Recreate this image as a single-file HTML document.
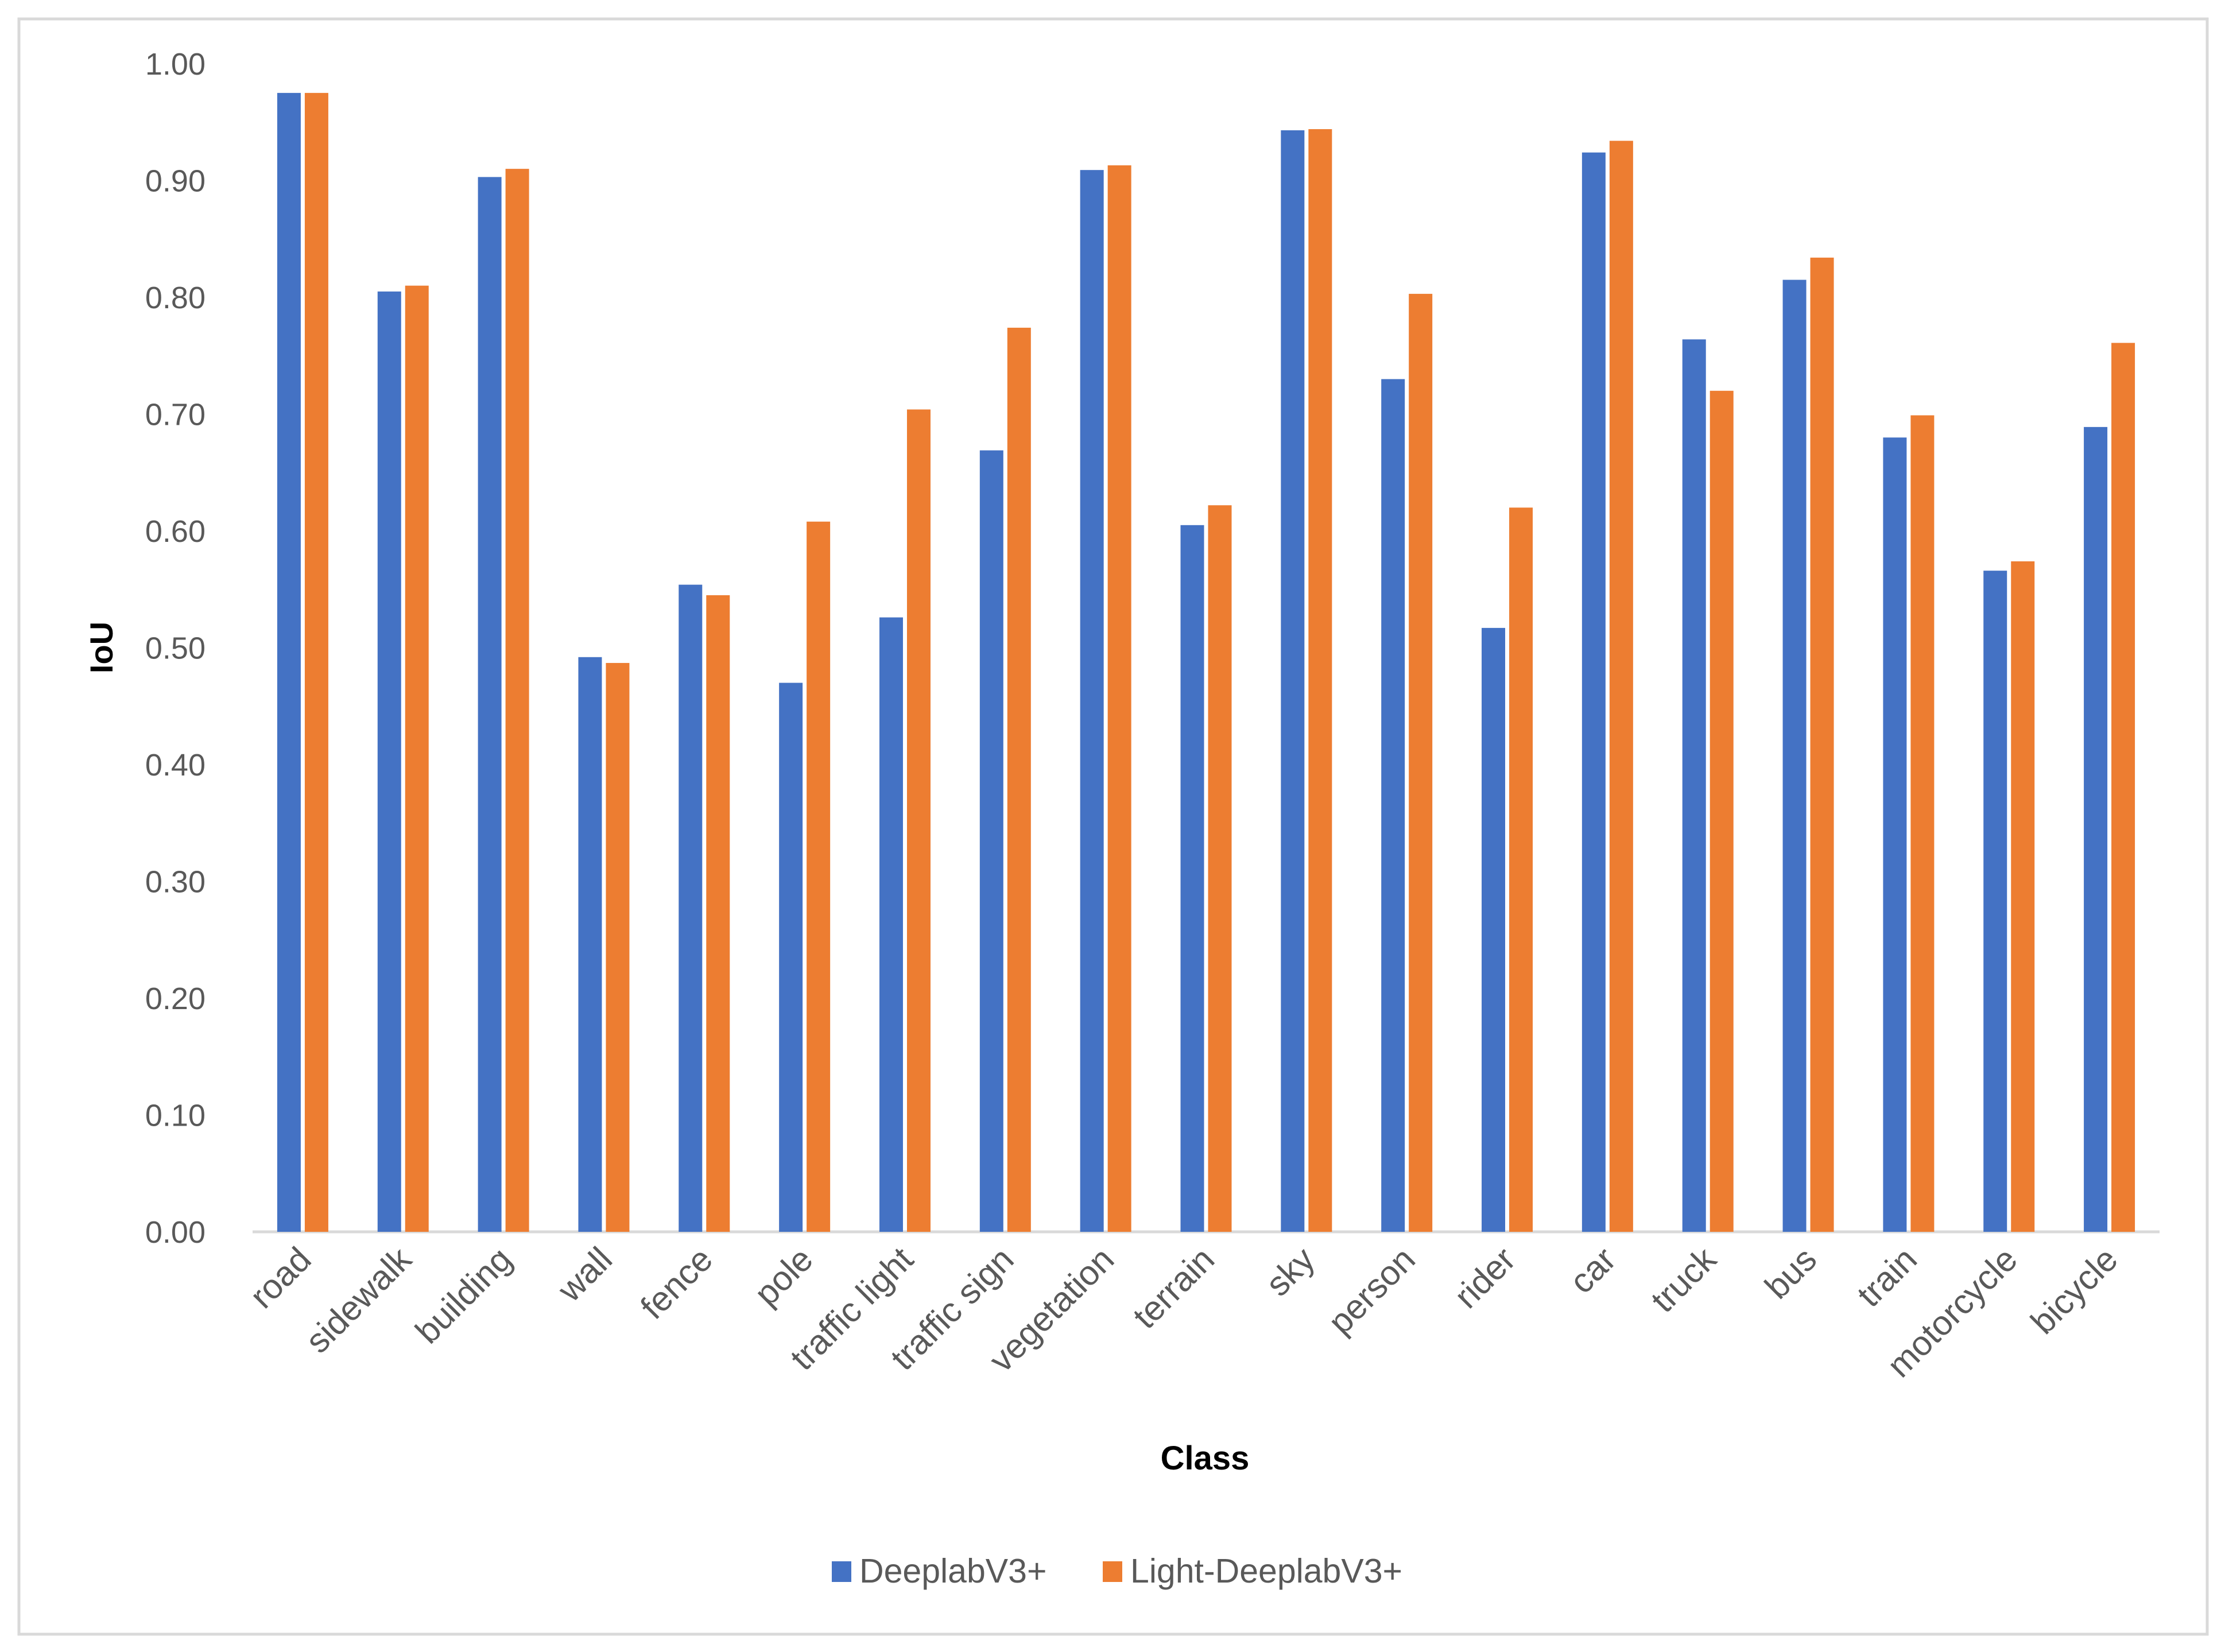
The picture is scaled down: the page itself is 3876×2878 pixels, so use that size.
<!DOCTYPE html>
<html><head><meta charset="utf-8"><style>
html,body{margin:0;padding:0;background:#fff}
svg{display:block}
text{font-family:"Liberation Sans",sans-serif}
</style></head><body>
<svg id="chart" width="3876" height="2878" viewBox="0 0 3876 2878" xmlns="http://www.w3.org/2000/svg">
<rect x="33" y="33" width="3812" height="2814" fill="#fff" stroke="#d9d9d9" stroke-width="5"/>
<g id="grid"></g>
<g id="bars"></g>
<g id="labels"></g>
<text transform="translate(196,1128) rotate(-90)" text-anchor="middle" font-size="56" font-weight="bold" fill="#000">IoU</text>
<text x="2099" y="2560" text-anchor="middle" font-size="58" font-weight="bold" fill="#000">Class</text>
<g>
<rect x="1449" y="2720" width="34" height="36" fill="#4472c4"/>
<text x="1497" y="2757" font-size="59" fill="#595959">DeeplabV3+</text>
<rect x="1921" y="2720" width="34" height="36" fill="#ed7d31"/>
<text x="1969" y="2757" font-size="59" fill="#595959">Light-DeeplabV3+</text>
</g>
</svg>
<script>
const categories = ["road","sidewalk","building","wall","fence","pole","traffic light","traffic sign","vegetation","terrain","sky","person","rider","car","truck","bus","train","motorcycle","bicycle"];
const deeplab = [0.975,0.805,0.903,0.492,0.554,0.470,0.526,0.669,0.909,0.605,0.943,0.730,0.517,0.924,0.764,0.815,0.680,0.566,0.689];
const lightDeeplab = [0.975,0.810,0.910,0.487,0.545,0.608,0.704,0.774,0.913,0.622,0.944,0.803,0.620,0.934,0.720,0.834,0.699,0.574,0.761];
const yTicks = [0,0.1,0.2,0.3,0.4,0.5,0.6,0.7,0.8,0.9,1.0];

const NS = "http://www.w3.org/2000/svg";
const x0 = 440, x1 = 3762, yBase = 2146, yTop = 111;
const band = (x1 - x0) / categories.length;
const barW = 41, gap = 7;
function yScale(v){ return yBase - v * (yBase - yTop); }
function xCenter(i){ return x0 + band * (i + 0.5); }
function mk(tag, attrs){ const e = document.createElementNS(NS, tag); for (const k in attrs) e.setAttribute(k, attrs[k]); return e; }

const grid = document.getElementById('grid');
const bars = document.getElementById('bars');
const labels = document.getElementById('labels');

yTicks.forEach(t => {
  const tx = mk('text', {x: 358, y: yScale(t) + 19, 'text-anchor': 'end', 'font-size': 54, fill: '#595959'});
  tx.textContent = t.toFixed(2);
  
  
  labels.appendChild(tx);
});

categories.forEach((c, i) => {
  const cx = xCenter(i);
  const b1 = mk('rect', {x: cx - gap/2 - barW, y: yScale(deeplab[i]), width: barW, height: yBase - yScale(deeplab[i]), fill: '#4472c4'});
  
  
  bars.appendChild(b1);
  const b2 = mk('rect', {x: cx + gap/2, y: yScale(lightDeeplab[i]), width: barW, height: yBase - yScale(lightDeeplab[i]), fill: '#ed7d31'});
  
  
  bars.appendChild(b2);
  const lb = mk('text', {transform: 'translate(' + (cx + 18) + ',2198) rotate(-45)', 'text-anchor': 'end', 'font-size': 60, fill: '#595959'});
  lb.textContent = c;
  
  
  labels.appendChild(lb);
});

const axis = mk('line', {x1: x0, x2: x1, y1: yBase, y2: yBase, stroke: '#d9d9d9', 'stroke-width': 5});


grid.appendChild(axis);
</script>
</body></html>
